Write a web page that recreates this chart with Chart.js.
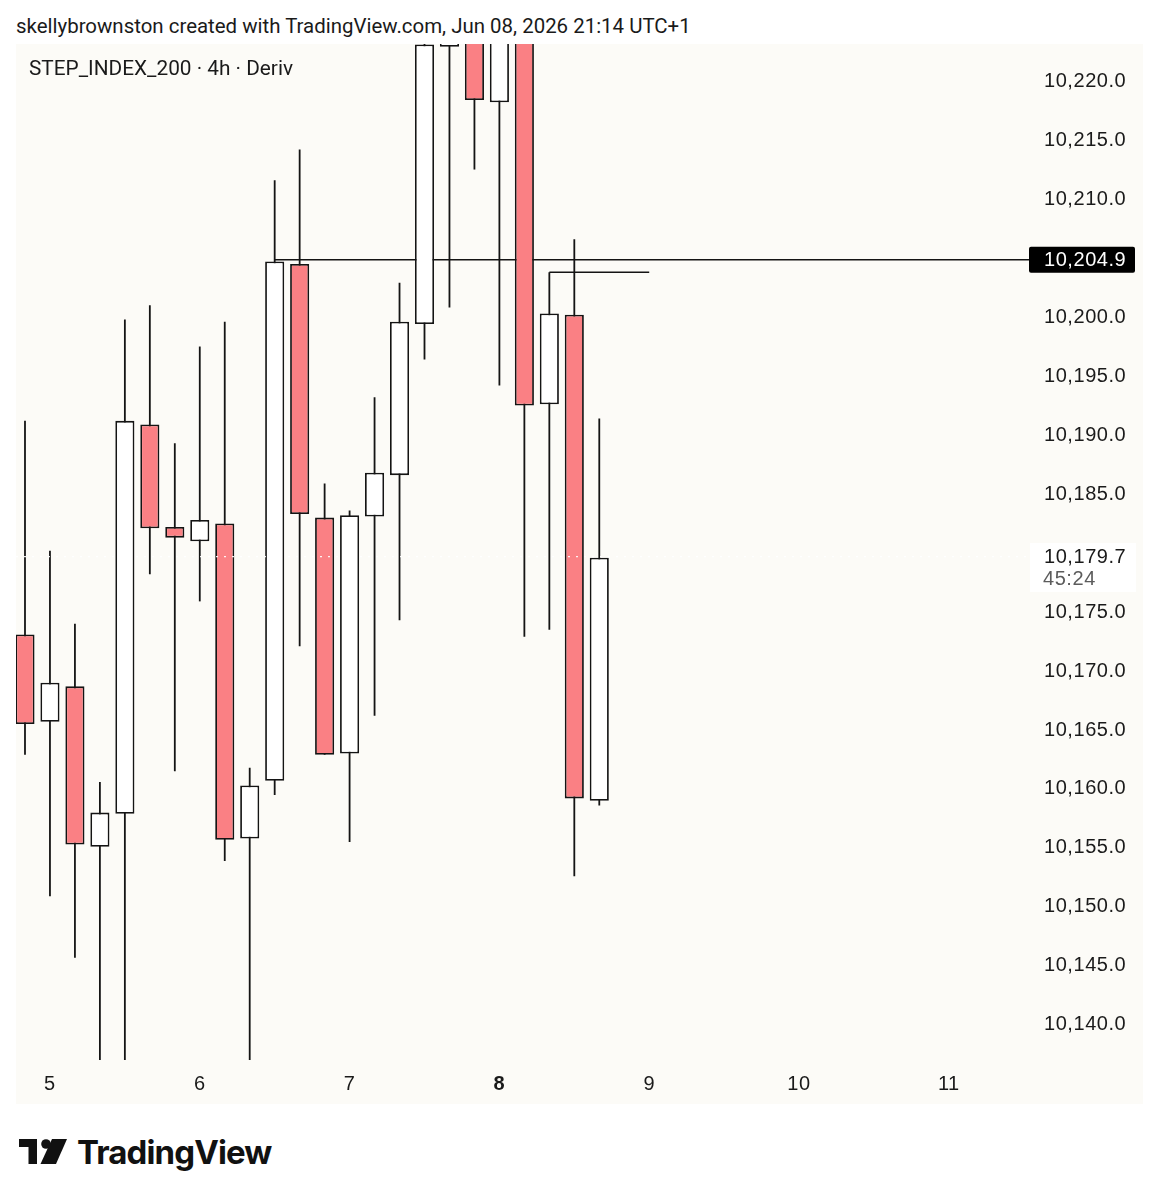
<!DOCTYPE html>
<html>
<head>
<meta charset="utf-8">
<title>STEP_INDEX_200</title>
<script src="https://cdn.jsdelivr.net/npm/chart.js@4"></script>
<style>
  html, body { margin: 0; padding: 0; background: #fff; }
  body { position: relative; width: 1159px; height: 1200px; overflow: hidden; color: #131722; }
  #heading { position: absolute; left: 16px; top: 14px; font: 20.45px/24px Roboto, sans-serif; white-space: nowrap; color: #1a1a1a; }
  #panel { position: absolute; left: 16px; top: 44px; width: 1127px; height: 1060px; background: #fcfbf7; }
  #legend { position: absolute; left: 29px; top: 56px; font: 20.8px/24px Roboto, sans-serif; white-space: nowrap; color: #1a1a1a; }
  #logoIcon { position: absolute; left: 19px; top: 1139px; }
  #logoText { position: absolute; left: 77px; top: 1130px; font: 700 33px/44px Inter, sans-serif; letter-spacing: -0.9px; color: #111; white-space: nowrap; }
</style>
</head>
<body>
<div id="heading">skellybrownston created with TradingView.com, Jun 08, 2026 21:14 UTC+1</div>
<div id="panel"><canvas id="chart" width="1127" height="1060"></canvas></div>
<div id="legend">STEP_INDEX_200 · 4h · Deriv</div>
<svg id="logoIcon" width="48" height="25" viewBox="0 0 48 25">
  <path d="M0 0H18V25H9.5V8H0Z" fill="#111"/>
  <circle cx="27" cy="5" r="4.8" fill="#111"/>
  <path d="M33 0H48L37 25H21.5Z" fill="#111"/>
</svg>
<div id="logoText">TradingView</div>

<script>
// candles, 4h. Tops above the pane are estimates
const opens  = [10173.1, 10165.7, 10168.7, 10155.1, 10157.9, 10190.9, 10182.2, 10181.0, 10182.5, 10155.8, 10160.7, 10204.5, 10183.0, 10163.0, 10183.1, 10186.6, 10199.4, 10222.9, 10227.0, 10218.2, 10227.5, 10192.6, 10200.2, 10159.0];
const closes = [10165.5, 10169.0, 10155.3, 10158.0, 10191.2, 10182.1, 10181.3, 10182.8, 10155.7, 10160.3, 10204.7, 10183.3, 10162.9, 10183.2, 10186.8, 10199.6, 10223.1, 10224.5, 10218.4, 10227.5, 10192.5, 10200.3, 10159.2, 10179.6];
const highs  = [10191.2, 10180.2, 10174.0, 10160.6, 10199.8, 10201.0, 10189.3, 10197.5, 10199.6, 10161.8, 10211.6, 10214.2, 10185.9, 10183.6, 10193.2, 10202.9, 10226.0, 10229.0, 10229.0, 10230.0, 10231.0, 10203.8, 10206.6, 10191.4];
const lows   = [10162.9, 10150.9, 10145.7, 10135.5, 10135.0, 10178.2, 10161.5, 10175.9, 10153.9, 10136.0, 10159.5, 10172.1, 10162.9, 10155.5, 10166.2, 10174.3, 10196.4, 10200.8, 10212.5, 10194.2, 10172.9, 10173.5, 10152.6, 10158.6];

const dayPositions = [1, 7, 13, 19, 25, 31, 37];
const dayLabels = ["5", "6", "7", "8", "9", "10", "11"];
const boldDay = 19;

// 10,180 and 10,205 are hidden behind the price labels
const priceTicks = [10220, 10215, 10210, 10200, 10195, 10190, 10185, 10175, 10170, 10165, 10160, 10155, 10150, 10145, 10140];

const rayOneX = [10, 40.25];
const rayOneY = [10204.85, 10204.85];
const rayTwoX = [21, 25];
const rayTwoY = [10203.8, 10203.8];
const lastPriceX = [-0.36, 40.25];
const lastPriceY = [10179.7, 10179.7];

const markedPrice = 10204.9;
const lastPrice = 10179.7;
const countdown = "45:24";

const red = "#fa8084";
const white = "#ffffff";
const ink = "#141414";
const axisFont = "'Liberation Sans', sans-serif";

function toPoints(xs, ys) {
  return xs.map((x, i) => ({ x: x, y: ys[i] }));
}

function formatPrice(v) {
  return v.toLocaleString("en-US", { minimumFractionDigits: 1, maximumFractionDigits: 1 });
}

const priceLabels = {
  id: "priceLabels",
  beforeDraw(chart) {
    chart.ctx.letterSpacing = "0.55px";
  },
  afterDraw(chart) {
    const ctx = chart.ctx;
    const y = chart.scales.y;
    const boxLeft = chart.chartArea.right;

    ctx.save();
    ctx.textBaseline = "middle";
    ctx.textAlign = "left";
    ctx.font = "20px " + axisFont;

    const markY = y.getPixelForValue(markedPrice);
    ctx.fillStyle = "#000";
    ctx.beginPath();
    ctx.roundRect(boxLeft - 1, markY - 12.5, 106, 26, 2);
    ctx.fill();
    ctx.fillStyle = "#fff";
    ctx.fillText(formatPrice(markedPrice), boxLeft + 14, markY + 1);

    const lastY = y.getPixelForValue(lastPrice);
    ctx.fillStyle = "#fff";
    ctx.fillRect(boxLeft, lastY - 13.5, 106, 49);
    ctx.fillStyle = "#1a1a1a";
    ctx.fillText(formatPrice(lastPrice), boxLeft + 14, lastY + 1);
    ctx.fillStyle = "#5c5c5c";
    ctx.fillText(countdown, boxLeft + 13, lastY + 23);
    ctx.restore();
  }
};

new Chart(document.getElementById("chart"), {
  data: {
    datasets: [
      {
        type: "bar",
        grouped: false,
        order: 2,
        data: toPoints(opens.map((o, i) => i), opens.map((o, i) => [opens[i], closes[i]])),
        categoryPercentage: 1,
        barPercentage: 0.765,
        backgroundColor: ctx => closes[ctx.dataIndex] < opens[ctx.dataIndex] ? red : white,
        borderColor: ink,
        borderWidth: 1.8,
        borderSkipped: false
      },
      {
        type: "bar",
        grouped: false,
        order: 3,
        data: toPoints(lows.map((l, i) => i), lows.map((l, i) => [l, highs[i]])),
        categoryPercentage: 1,
        barPercentage: 0.1,
        maxBarThickness: 1.8,
        backgroundColor: ink
      },
      {
        type: "line",
        order: 4,
        data: toPoints(rayOneX, rayOneY),
        borderColor: ink,
        borderWidth: 1.6,
        pointRadius: 0
      },
      {
        type: "line",
        order: 1,
        data: toPoints(rayTwoX, rayTwoY),
        borderColor: ink,
        borderWidth: 1.6,
        pointRadius: 0
      },
      {
        type: "line",
        order: 0,
        data: toPoints(lastPriceX, lastPriceY),
        borderColor: "rgba(255,255,255,0.9)",
        borderWidth: 1.2,
        borderDash: [2, 6],
        pointRadius: 0
      }
    ]
  },
  options: {
    responsive: false,
    animation: false,
    layout: { padding: 0, autoPadding: false },
    plugins: { legend: { display: false }, tooltip: { enabled: false }, title: { display: false } },
    scales: {
      x: {
        type: "linear",
        offset: false,
        min: -0.36,
        max: 40.25,
        grid: { display: false },
        border: { display: false },
        afterBuildTicks: scale => { scale.ticks = dayPositions.map(v => ({ value: v })); },
        afterFit: scale => {
          scale.height = 44;
          scale.paddingLeft = 0;
          scale.paddingRight = 0;
        },
        ticks: {
          autoSkip: false,
          maxRotation: 0,
          padding: 4,
          color: "#1a1a1a",
          font: ctx => ({ family: axisFont, size: 20, weight: ctx.tick && ctx.tick.value === boldDay ? "bold" : "normal" }),
          callback: v => dayLabels[dayPositions.indexOf(v)]
        }
      },
      y: {
        position: "right",
        min: 10137.03,
        max: 10223.14,
        grid: { display: false },
        border: { display: false },
        afterBuildTicks: scale => { scale.ticks = priceTicks.map(v => ({ value: v })); },
        afterFit: scale => {
          scale.width = 113;
          scale.paddingTop = 0;
          scale.paddingBottom = 0;
        },
        ticks: {
          autoSkip: false,
          padding: 6,
          color: "#1a1a1a",
          font: { family: axisFont, size: 20 },
          callback: v => formatPrice(v)
        }
      }
    }
  },
  plugins: [priceLabels]
});
</script>
</body>
</html>
